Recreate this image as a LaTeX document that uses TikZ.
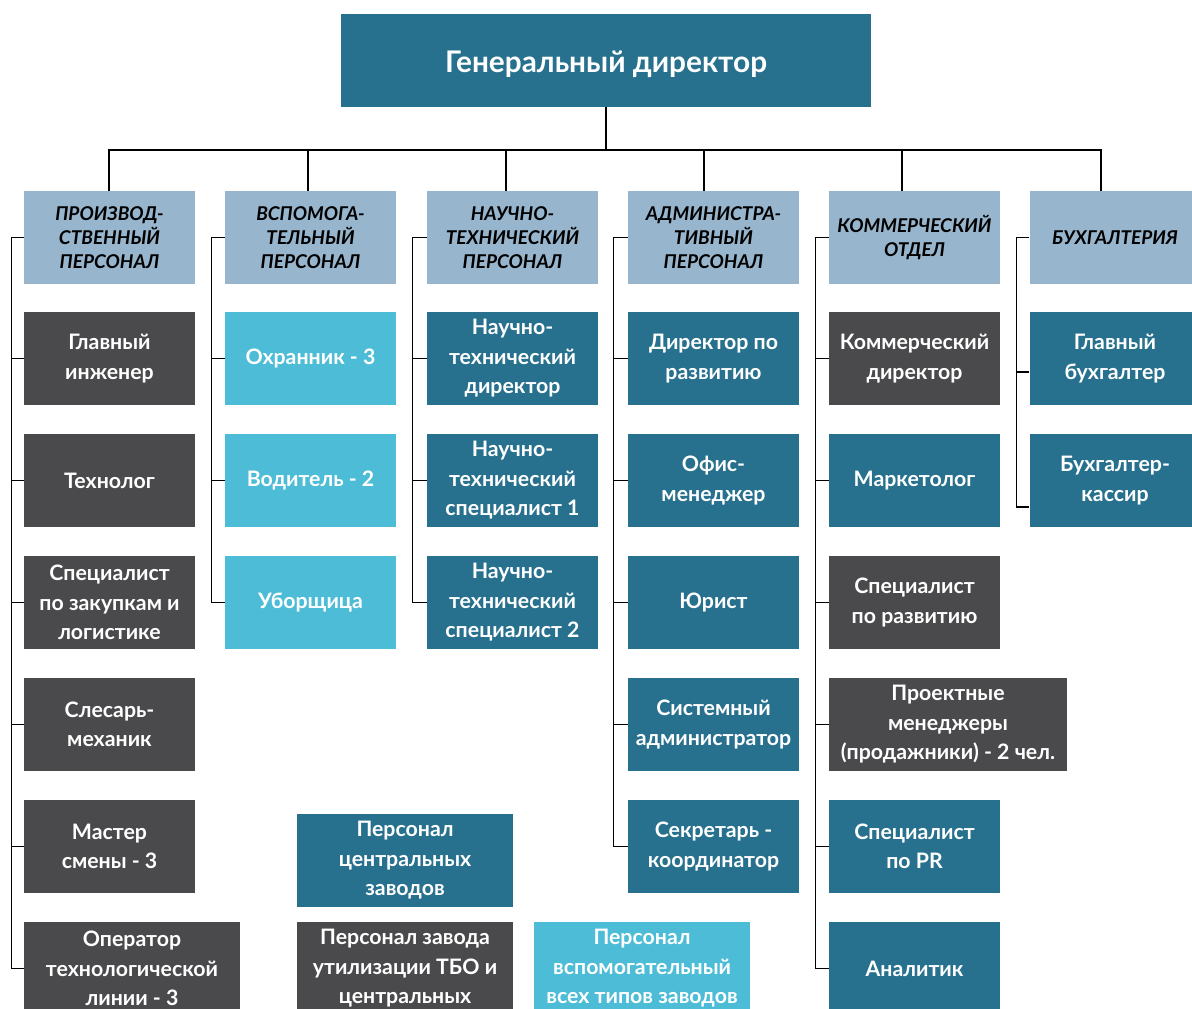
\documentclass[tikz,border=0pt]{standalone}
\usepackage{fontspec}
\setmainfont{Lato}
\usetikzlibrary{calc}

\definecolor{boxteal}{RGB}{39,113,142}
\definecolor{boxdark}{RGB}{74,74,76}
\definecolor{boxcyan}{RGB}{77,188,214}
\definecolor{headblue}{RGB}{151,181,204}

\tikzset{
    unit/.style={inner sep=0pt, minimum width=171pt, minimum height=93pt, align=center,
        text=white, font=\bfseries\fontsize{21.3}{29.5}\selectfont},
    tealbox/.style={unit, fill=boxteal},
    darkbox/.style={unit, fill=boxdark},
    cyanbox/.style={unit, fill=boxcyan},
    headbox/.style={unit, fill=headblue, text=black, font=\bfseries\itshape\fontsize{19}{24}\selectfont},
    link/.style={line width=1.3pt}
}

\begin{document}
\begin{tikzpicture}[x=1pt,y=-1pt]
            \useasboundingbox (0,0) rectangle (1192,1009);
            \clip (0,0) rectangle (1192,1009);
            \node[tealbox, minimum width=530pt, text height=30pt, text depth=7pt, font=\bfseries\fontsize{29.8}{34}\selectfont] (G) at (606,60.5) {Генеральный директор};
            \coordinate (bus) at (606,150);
            % отделы
            \node[headbox] (P0) at (109.5,237.5) {ПРОИЗВОД-\\СТВЕННЫЙ\\ПЕРСОНАЛ};
            \node[headbox] (S0) at (310.5,237.5) {ВСПОМОГА-\\ТЕЛЬНЫЙ\\ПЕРСОНАЛ};
            \node[headbox] (N0) at (512.5,237.5) {НАУЧНО-\\ТЕХНИЧЕСКИЙ\\ПЕРСОНАЛ};
            \node[headbox] (A0) at (713.5,237.5) {АДМИНИСТРА-\\ТИВНЫЙ\\ПЕРСОНАЛ};
            \node[headbox] (K0) at (914.5,237.5) {КОММЕРЧЕСКИЙ\\ОТДЕЛ};
            \node[headbox] (B0) at (1115,237.5) {БУХГАЛТЕРИЯ};
            % производственный персонал
            \node[darkbox] (P1) at (109.5,358.5) {Главный\\инженер};
            \node[darkbox] (P2) at (109.5,480.5) {Технолог};
            \node[darkbox] (P3) at (109.5,602.5) {Специалист\\по закупкам и\\логистике};
            \node[darkbox] (P4) at (109.5,724.5) {Слесарь-\\механик};
            \node[darkbox] (P5) at (109.5,846.5) {Мастер\\смены - 3};
            \node[darkbox, minimum width=216pt] (P6) at (132,968.5) {Оператор\\технологической\\линии - 3};
            % вспомогательный персонал
            \node[cyanbox] (S1) at (310.5,358.5) {Охранник - 3};
            \node[cyanbox] (S2) at (310.5,480.5) {Водитель - 2};
            \node[cyanbox] (S3) at (310.5,602.5) {Уборщица};
            % научно-технический персонал
            \node[tealbox] (N1) at (512.5,358.5) {Научно-\\технический\\директор};
            \node[tealbox] (N2) at (512.5,480.5) {Научно-\\технический\\специалист 1};
            \node[tealbox] (N3) at (512.5,602.5) {Научно-\\технический\\специалист 2};
            % административный персонал
            \node[tealbox] (A1) at (713.5,358.5) {Директор по\\развитию};
            \node[tealbox] (A2) at (713.5,480.5) {Офис-\\менеджер};
            \node[tealbox] (A3) at (713.5,602.5) {Юрист};
            \node[tealbox] (A4) at (713.5,724.5) {Системный\\администратор};
            \node[tealbox] (A5) at (713.5,846.5) {Секретарь -\\координатор};
            % коммерческий отдел
            \node[darkbox] (K1) at (914.5,358.5) {Коммерческий\\директор};
            \node[tealbox] (K2) at (914.5,480.5) {Маркетолог};
            \node[darkbox] (K3) at (914.5,602.5) {Специалист\\по развитию};
            \node[darkbox, minimum width=238pt] (K4) at (948,724.5) {Проектные\\менеджеры\\(продажники) - 2 чел.};
            \node[tealbox] (K5) at (914.5,846.5) {Специалист\\по PR};
            \node[tealbox] (K6) at (914.5,968.5) {Аналитик};
            % бухгалтерия
            \node[tealbox] (B1) at (1115,358.5) {Главный\\бухгалтер};
            \node[tealbox] (B2) at (1115,480.5) {Бухгалтер-\\кассир};
            % заводы
            \node[tealbox, minimum width=216pt] (Z1) at (405,860.5) {Персонал\\центральных\\заводов};
            \node[darkbox, minimum width=216pt] (Z2) at (405,968.5) {Персонал завода\\утилизации ТБО и\\центральных};
            \node[cyanbox, minimum width=216pt] (Z3) at (642,968.5) {Персонал\\вспомогательный\\всех типов заводов};
            % связи
            \draw[link] (G.south) -- (bus);
            \draw[link] ([xshift=-0.5pt]P0.north) |- (bus);
            \draw[link] ([xshift=-2.5pt]S0.north) |- (bus);
            \draw[link] ([xshift=-6.5pt]N0.north) |- (bus);
            \draw[link] ([xshift=-9.5pt]A0.north) |- (bus);
            \draw[link] ([xshift=-12.5pt]K0.north) |- (bus);
            \draw[link] ([xshift=-14pt]B0.north) |- (bus);
            \draw[link] (P0.west) -- ++(-12,0) |- (P6.west)
                (P1.west) -- ++(-12,0) (P2.west) -- ++(-12,0) (P3.west) -- ++(-12,0)
                (P4.west) -- ++(-12,0) (P5.west) -- ++(-12,0);
            \draw[link] (S0.west) -- ++(-13,0) |- (S3.west)
                (S1.west) -- ++(-13,0) (S2.west) -- ++(-13,0);
            \draw[link] (N0.west) -- ++(-14,0) |- (N3.west)
                (N1.west) -- ++(-14,0) (N2.west) -- ++(-14,0);
            \draw[link] (A0.west) -- ++(-14,0) |- (A5.west)
                (A1.west) -- ++(-14,0) (A2.west) -- ++(-14,0) (A3.west) -- ++(-14,0)
                (A4.west) -- ++(-14,0);
            \draw[link] (K0.west) -- ++(-13,0) |- (K6.west)
                (K1.west) -- ++(-13,0) (K2.west) -- ++(-13,0) (K3.west) -- ++(-13,0)
                (K4.west) -- ++(-13,0) (K5.west) -- ++(-13,0);
            \draw[link] (B0.west) -- ++(-13,0) |- ([yshift=-26.5pt]B2.west)
                ([yshift=-13.5pt]B1.west) -- ++(-13,0);
        \end{tikzpicture}
\end{document}
